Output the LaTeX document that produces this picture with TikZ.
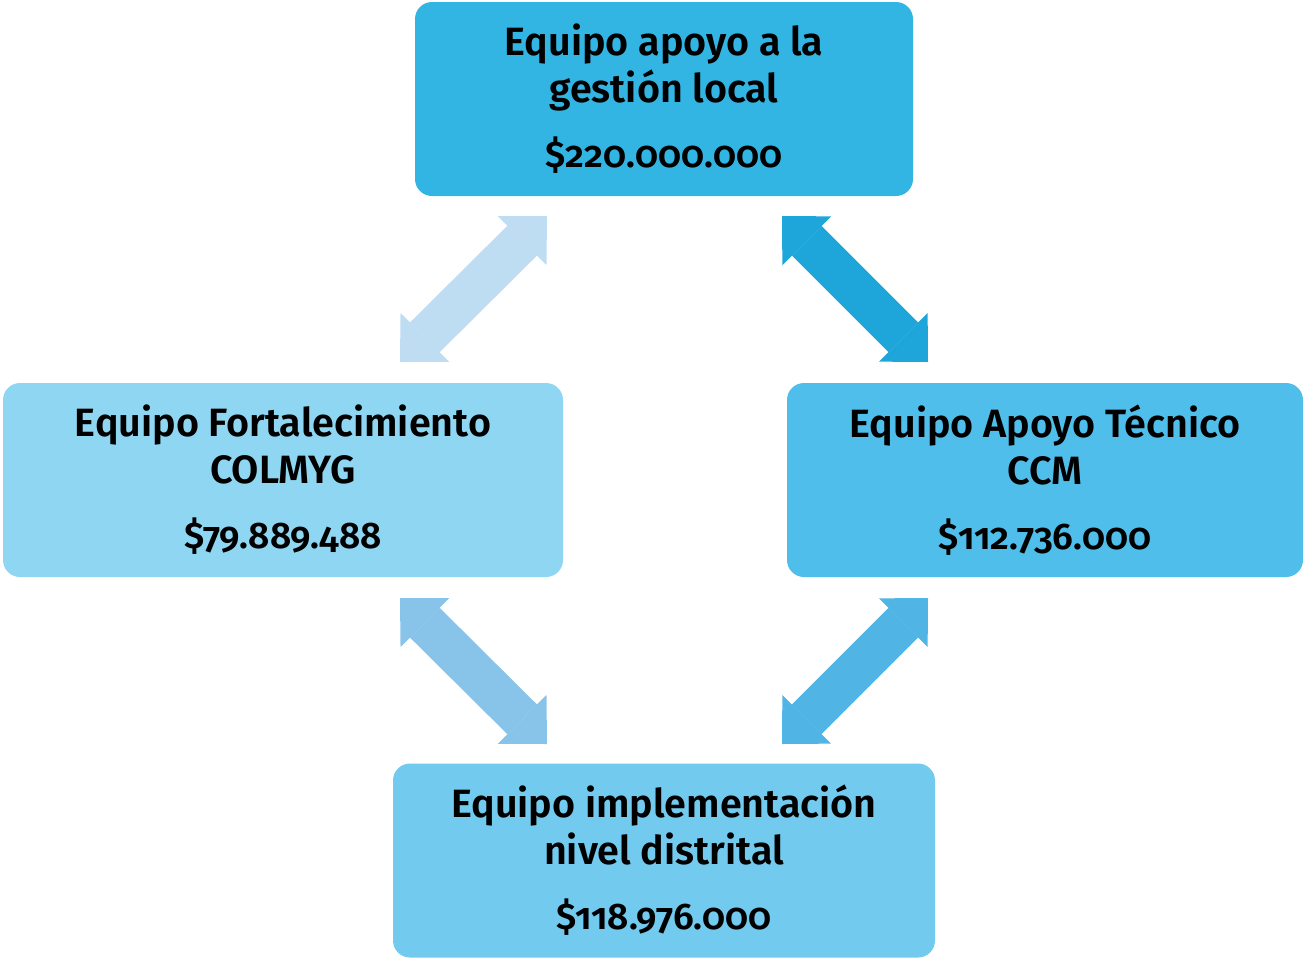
\documentclass[tikz,border=0pt]{standalone}
\usepackage{fontspec}
\setmainfont{Fira Sans}[Numbers=OldStyle, BoldFont={Fira Sans SemiBold}]
\usetikzlibrary{arrows.meta}

\definecolor{localblue}{RGB}{51,181,228}
\definecolor{colmygblue}{RGB}{142,214,241}
\definecolor{ccmblue}{RGB}{79,190,234}
\definecolor{distblue}{RGB}{114,202,238}
\definecolor{arrowA}{RGB}{190,220,242}
\definecolor{arrowB}{RGB}{30,166,218}
\definecolor{arrowC}{RGB}{136,196,234}
\definecolor{arrowD}{RGB}{80,180,228}

\newcommand{\amount}[1]{{\fontsize{37}{47}\selectfont\$#1}}

\tikzset{
  team/.style={rounded corners=17pt, minimum height=194pt, inner sep=0pt, align=center,
    font=\fontsize{39.5}{47}\selectfont\bfseries},
  link/.style={line width=42pt,
    {Triangle[length=35pt,width=69pt,line width=0pt]}-{Triangle[length=35pt,width=69pt,line width=0pt]}}
}

\begin{document}
\begin{tikzpicture}[x=1pt,y=-1pt]
    \useasboundingbox (0,0) rectangle (1304,959);

    % Team boxes
    \node[team, fill=localblue, minimum width=498pt] (local) at (664,99) {Equipo apoyo a la\\gestión local\\[18pt]\amount{220.000.000}};
    \node[team, fill=colmygblue, minimum width=560pt] (colmyg) at (283,480) {Equipo Fortalecimiento\\COLMYG\\[18pt]\amount{79.889.488}};
    \node[team, fill=ccmblue, minimum width=516pt] (ccm) at (1045,480) {Equipo Apoyo Técnico\\CCM\\[18pt]\amount{112.736.000}};
    \node[team, fill=distblue, minimum width=542pt] (distrital) at (664,860.5) {Equipo implementación\\nivel distrital\\[18pt]\amount{118.976.000}};

    % Arrow ends
    \coordinate (a1) at (400,362);
    \coordinate (a2) at (547,216);
    \coordinate (b1) at (782,216);
    \coordinate (b2) at (928,362);
    \coordinate (c1) at (400,598);
    \coordinate (c2) at (547,744);
    \coordinate (d1) at (928,598);
    \coordinate (d2) at (782,744);

    % Double block arrows
    \draw[link, arrowA] (a1) -- (a2);
    \draw[link, arrowB] (b1) -- (b2);
    \draw[link, arrowC] (c1) -- (c2);
    \draw[link, arrowD] (d1) -- (d2);
\end{tikzpicture}
\end{document}
